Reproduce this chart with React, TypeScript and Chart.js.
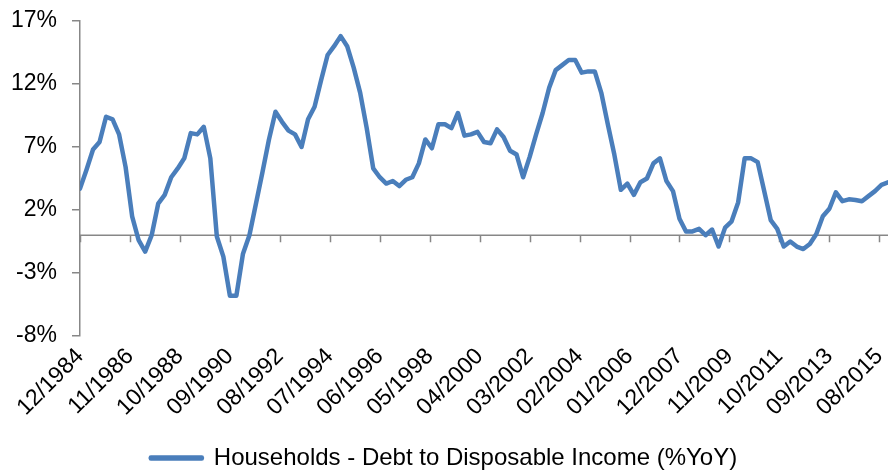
import React, { useEffect, useRef } from 'react';
import { Chart, registerables } from 'chart.js';

Chart.register(...registerables);

const seriesLabel = 'Households - Debt to Disposable Income (%YoY)';

// x-axis tick labels, one every 23 months starting 12/1984
const tickLabels = [
  '12/1984', '11/1986', '10/1988', '09/1990', '08/1992', '07/1994', '06/1996',
  '05/1998', '04/2000', '03/2002', '02/2004', '01/2006', '12/2007', '11/2009',
  '10/2011', '09/2013', '08/2015',
];
const monthsPerTick = 23;
const monthsPerPoint = 3; // quarterly observations, 12/1984 .. 12/2015
const totalMonths = 372;

// quarterly values (%YoY), starting 12/1984
const debtToIncomeYoY = [
  3.7, 5.2, 6.8, 7.4, 9.4, 9.2, 8.0, 5.4, 1.5, -0.4,
  -1.3, 0.0, 2.5, 3.2, 4.6, 5.3, 6.1, 8.1, 8.0, 8.6,
  6.1, -0.1, -1.7, -4.8, -4.8, -1.5, 0.0, 2.5, 5.0, 7.6,
  9.8, 9.0, 8.3, 8.0, 7.0, 9.2, 10.2, 12.3, 14.3, 15.0,
  15.8, 15.0, 13.3, 11.3, 8.5, 5.3, 4.6, 4.1, 4.3, 3.9,
  4.4, 4.6, 5.7, 7.6, 6.9, 8.8, 8.8, 8.5, 9.7, 7.9,
  8.0, 8.2, 7.4, 7.3, 8.4, 7.8, 6.7, 6.4, 4.6, 6.2,
  8.0, 9.7, 11.7, 13.1, 13.5, 13.9, 13.9, 12.9, 13.0, 13.0,
  11.3, 8.8, 6.4, 3.6, 4.1, 3.2, 4.2, 4.5, 5.7, 6.1,
  4.3, 3.5, 1.3, 0.3, 0.3, 0.5, 0.0, 0.45, -0.9, 0.6,
  1.1, 2.6, 6.1, 6.1, 5.8, 3.5, 1.2, 0.5, -0.9, -0.5,
  -0.9, -1.1, -0.7, 0.1, 1.5, 2.1, 3.4, 2.7, 2.85, 2.8,
  2.7, 3.1, 3.5, 4.0, 4.2,
];

const yTickValues = [-8, -3, 2, 7, 12, 17];

const lineColor = '#4A7EBB';
const axisColor = '#878787';
const fontFamily = '"Liberation Sans", Arial, sans-serif';

export default function App() {
  const canvasRef = useRef<HTMLCanvasElement | null>(null);

  useEffect(() => {
    if (!canvasRef.current) return;

    const zeroAxis = {
      id: 'zeroAxis',
      beforeDatasetsDraw(chart: any) {
        const { ctx, chartArea, scales } = chart;
        const xs = scales.x;
        const ys = scales.y;
        const y0 = ys.getPixelForValue(0);
        ctx.save();
        ctx.strokeStyle = axisColor;
        ctx.lineWidth = 1.5;
        ctx.beginPath();
        ctx.moveTo(chartArea.left, y0);
        ctx.lineTo(chartArea.right, y0);
        xs.ticks.forEach((t: any) => {
          const px = Math.round(xs.getPixelForValue(t.value)) + 0.5;
          ctx.moveTo(px, y0);
          ctx.lineTo(px, y0 + 7);
        });
        ctx.stroke();
        ctx.restore();
      },
    };

    // nudge the legend down toward the bottom edge, as in the reference
    const legendShift = {
      id: 'legendShift',
      afterLayout(chart: any) {
        const lg = chart.legend;
        if (lg) {
          lg.top += 10;
          lg.bottom += 10;
        }
      },
    };

    const chart = new Chart(canvasRef.current, {
      type: 'line',
      data: {
        datasets: [
          {
            label: seriesLabel,
            data: debtToIncomeYoY.map((v, i) => ({ x: i * monthsPerPoint, y: v })),
            borderColor: lineColor,
            backgroundColor: lineColor,
            borderWidth: 4.5,
            pointRadius: 0,
            tension: 0,
            borderJoinStyle: 'round',
            borderCapStyle: 'round',
          },
        ],
      },
      options: {
        animation: false,
        responsive: false,
        layout: { padding: { top: 21, right: 0, left: 0, bottom: 0 } },
        scales: {
          x: {
            type: 'linear',
            min: 0,
            max: totalMonths,
            afterBuildTicks: (s: any) => {
              s.ticks = tickLabels.map((_, i) => ({ value: i * monthsPerTick }));
            },
            ticks: {
              autoSkip: false,
              maxRotation: 45,
              minRotation: 45,
              padding: 7,
              color: '#000',
              font: { family: fontFamily, size: 23 },
              callback: (v: any) => tickLabels[Math.round(Number(v) / monthsPerTick)] ?? '',
            },
            grid: { display: false, drawTicks: false },
            border: { display: false },
            afterFit: (s: any) => {
              s.height = 100;
              s.paddingLeft = 0;
              s.paddingRight = 0;
            },
          },
          y: {
            min: -8,
            max: 17,
            afterBuildTicks: (s: any) => {
              s.ticks = yTickValues.map((v) => ({ value: v }));
            },
            ticks: {
              padding: 15,
              color: '#000',
              font: { family: fontFamily, size: 23 },
              callback: (v: any) => `${v}%`,
            },
            grid: {
              drawOnChartArea: false,
              drawTicks: true,
              tickLength: 8,
              color: axisColor,
              lineWidth: 1.5,
            },
            border: { display: true, color: axisColor, width: 1.5 },
            afterFit: (s: any) => {
              s.width = 80;
              s.paddingTop = 0;
              s.paddingBottom = 0;
            },
          },
        },
        plugins: {
          legend: {
            position: 'bottom',
            labels: {
              boxWidth: 51,
              boxHeight: 1,
              padding: 0,
              color: '#000',
              font: { family: fontFamily, size: 24 },
            },
          },
          tooltip: { enabled: false },
        },
      },
      plugins: [zeroAxis, legendShift],
    } as any);

    return () => chart.destroy();
  }, []);

  return (
    <div style={{ position: 'absolute', left: 0, top: 0, width: 888, height: 470, background: '#fff' }}>
      <canvas ref={canvasRef} width={888} height={470} style={{ display: 'block' }} />
    </div>
  );
}
